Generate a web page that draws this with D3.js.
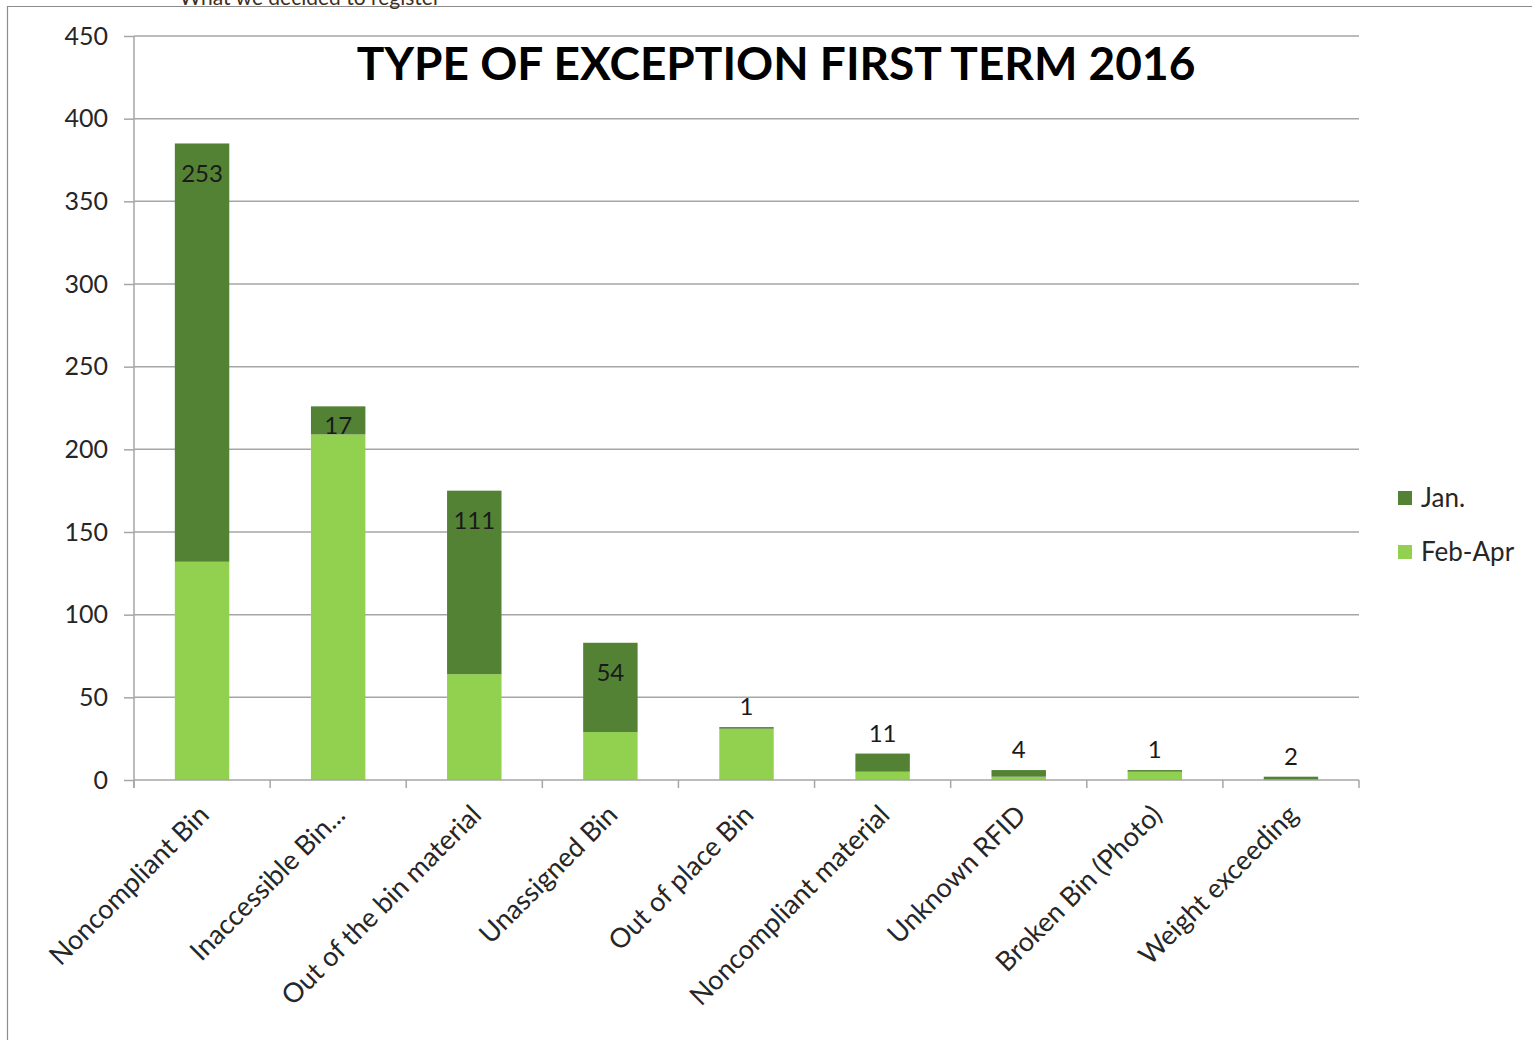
<!DOCTYPE html>
<html>
<head>
<meta charset="utf-8">
<script src="https://cdn.jsdelivr.net/npm/d3@7"></script>
<style>
  body { margin: 0; background: #fff; }
  svg text { font-family: Lato, "Open Sans", sans-serif; }
</style>
</head>
<body>
<div id="chart"></div>
<script>
let categories = ["Noncompliant Bin", "Inaccessible Bin...", "Out of the bin material", "Unassigned Bin",
  "Out of place Bin", "Noncompliant material", "Unknown RFID", "Broken Bin (Photo)", "Weight exceeding"];
let febApr = [132, 209, 64, 29, 31, 5, 2, 5, 0];
let jan = [253, 17, 111, 54, 1, 11, 4, 1, 2];
let seriesNames = ["Jan.", "Feb-Apr"];
let yTicks = [0, 50, 100, 150, 200, 250, 300, 350, 400, 450];

let darkGreen = "#548235", lightGreen = "#92d050";

let width = 1532, height = 1040;
let svg = d3.select("#chart").append("svg")
  .attr("width", width)
  .attr("height", height);

// outer frame (chart area cut by the page)
svg.append("path")
  .attr("d", "M7.5," + height + "V6.5H" + width)
  .attr("fill", "none")
  .attr("stroke", "#8c8c8c")
  .attr("stroke-width", 1.2);

// heading of the page, cut off at the top
svg.append("text")
  .attr("x", 310).attr("y", 5)
  .attr("text-anchor", "middle")
  .attr("font-size", 21)
  .attr("fill", "#3f2f1c")
  .text("What we decided to register");

let plotLeft = 134, plotRight = 1359, plotTop = 36, plotBottom = 780;

let x = d3.scaleBand().domain(categories).range([plotLeft, plotRight]).paddingInner(0.6).paddingOuter(0.3);
let xBand = d3.scaleBand().domain(categories).range([plotLeft, plotRight]);
let y = d3.scaleLinear().domain([0, 450]).range([plotBottom, plotTop]);

// gridlines
svg.append("g")
  .selectAll("line")
  .data(yTicks.filter(d => d > 0))
  .enter().append("line")
  .attr("x1", plotLeft).attr("x2", plotRight)
  .attr("y1", d => y(d)).attr("y2", d => y(d))
  .attr("stroke", "#a6a6a6")
  .attr("stroke-width", 1.5);

// y axis
let yAxis = svg.append("g")
  .attr("transform", "translate(" + plotLeft + ",0)")
  .call(d3.axisLeft(y).tickValues(yTicks).tickSize(10).tickPadding(16));
yAxis.select(".domain").attr("stroke", "#a6a6a6").attr("stroke-width", 1.5)
  .attr("d", "M0," + plotTop + "V" + (plotBottom + 8));
yAxis.selectAll(".tick line").attr("stroke", "#a6a6a6").attr("stroke-width", 1.5);
yAxis.selectAll(".tick text").attr("font-size", 25).attr("fill", "#262626")
  .attr("font-family", "Lato, sans-serif");

// stacked bars
let stacked = d3.stack().keys(["febApr", "jan"])(categories.map((c, i) => ({ cat: c, febApr: febApr[i], jan: jan[i] })));
let colors = { febApr: lightGreen, jan: darkGreen };

stacked.forEach(layer => {
  svg.append("g")
    .selectAll("rect")
    .data(layer)
    .enter().append("rect")
    .attr("x", d => x(d.data.cat))
    .attr("width", x.bandwidth())
    .attr("y", d => y(d[1]))
    .attr("height", d => y(d[0]) - y(d[1]))
    .attr("fill", colors[layer.key]);
});

// x axis line and ticks
svg.append("line")
  .attr("x1", plotLeft).attr("x2", plotRight)
  .attr("y1", plotBottom).attr("y2", plotBottom)
  .attr("stroke", "#a6a6a6").attr("stroke-width", 1.5);
svg.append("g")
  .selectAll("line")
  .data(categories.concat(["end"]))
  .enter().append("line")
  .attr("x1", (d, i) => plotLeft + i * xBand.step())
  .attr("x2", (d, i) => plotLeft + i * xBand.step())
  .attr("y1", plotBottom).attr("y2", plotBottom + 8)
  .attr("stroke", "#a6a6a6").attr("stroke-width", 1.5);

// category labels
svg.append("g")
  .selectAll("text")
  .data(categories)
  .enter().append("text")
  .attr("transform", d => "translate(" + (xBand(d) + xBand.bandwidth() / 2 + 2) + "," + (plotBottom + 30) + ") rotate(-45)")
  .attr("text-anchor", "end")
  .attr("dy", "0.35em")
  .attr("font-size", 27)
  .attr("fill", "#262626")
  .text(d => d);

// data labels for Jan.
svg.append("g")
  .selectAll("text")
  .data(stacked[1])
  .enter().append("text")
  .attr("x", d => x(d.data.cat) + x.bandwidth() / 2)
  .attr("y", d => {
    let h = y(d[0]) - y(d[1]);
    return h >= 25 ? y(d[1]) + Math.min(30, h * 0.7) : y(d[1]) - 20;
  })
  .attr("dy", "0.35em")
  .attr("text-anchor", "middle")
  .attr("font-size", 24)
  .attr("fill", "#1a1a1a")
  .text(d => d.data.jan);

// title
svg.append("text")
  .attr("x", 776).attr("y", 80)
  .attr("text-anchor", "middle")
  .attr("font-size", 46)
  .attr("font-weight", "bold")
  .attr("fill", "#000")
  .text("TYPE OF EXCEPTION FIRST TERM 2016");

// legend
let legend = svg.append("g").attr("transform", "translate(1398,491)");
let legendItems = legend.selectAll("g")
  .data(seriesNames)
  .enter().append("g")
  .attr("transform", (d, i) => "translate(0," + i * 54 + ")");
legendItems.append("rect")
  .attr("width", 14).attr("height", 14)
  .attr("fill", (d, i) => i === 0 ? darkGreen : lightGreen);
legendItems.append("text")
  .attr("x", 23).attr("y", 7)
  .attr("dy", "0.35em")
  .attr("font-size", 26)
  .attr("fill", "#262626")
  .text(d => d);
</script>
</body>
</html>
